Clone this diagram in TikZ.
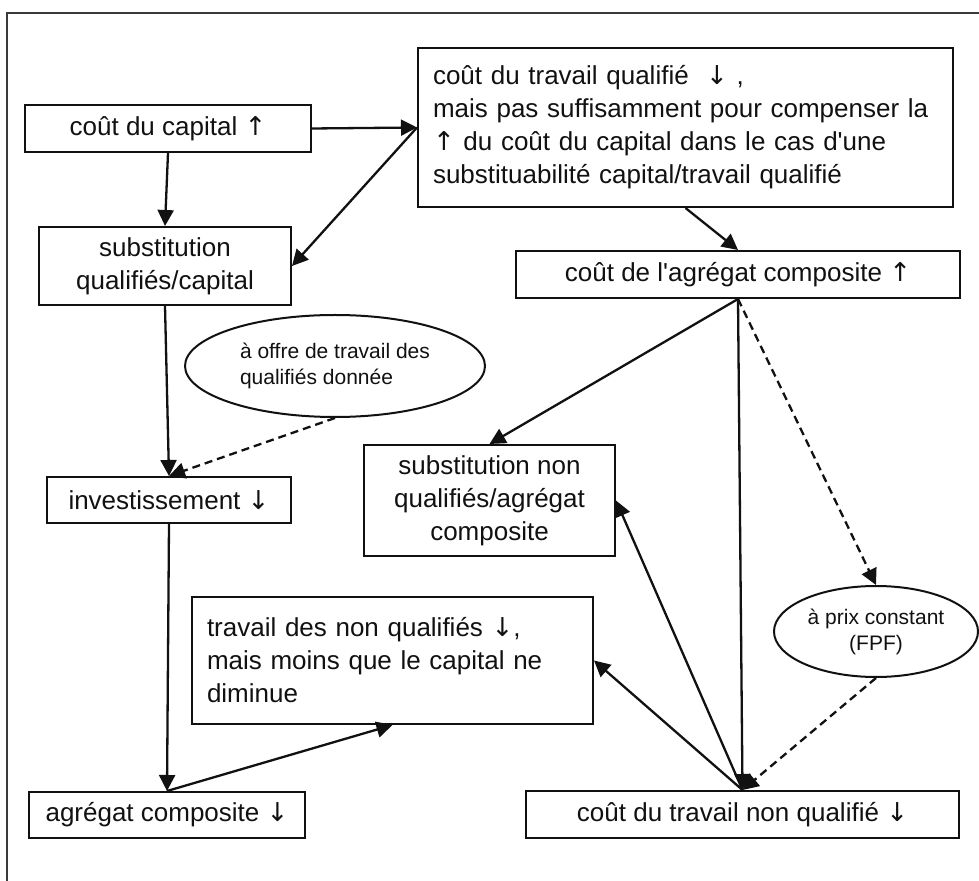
\documentclass[tikz,border=0pt]{standalone}
\usepackage{fontspec}
\setmainfont{Liberation Sans}[Ligatures=TeXOff]
\newfontfamily\arrowfont{DejaVu Sans}
\newcommand\hausse{{\arrowfont ↑}}
\newcommand\baisse{{\arrowfont ↓}}
\usetikzlibrary{arrows.meta,shapes.geometric}
\definecolor{ChartInk}{HTML}{111111}
\definecolor{ChartFrame}{HTML}{3A3A3A}
\tikzset{
  every node/.style={font=\fontsize{13}{16.5}\selectfont, text=ChartInk},
  box/.style={draw=ChartInk, line width=1pt, rectangle, inner sep=0pt, align=center},
  boxsize/.style 2 args={minimum width=#1*0.5pt, minimum height=#2*0.5pt},
  oval/.style={draw=ChartInk, line width=1pt, ellipse, inner sep=0pt, font=\fontsize{10.5}{13}\selectfont},
  link/.style={-{Triangle[length=8pt,width=8pt]}, draw=ChartInk, line width=1.15pt},
  hint/.style={link, dash pattern=on 4pt off 2.5pt},
}

\begin{document}
\begin{tikzpicture}[x=0.5pt,y=-0.5pt]
  \useasboundingbox (0,0) rectangle (979,881);
  \fill[white] (0,0) rectangle (979,881);
  % Outer frame, running off the page on the right and at the bottom
  \begin{scope}
    \clip (0,0) rectangle (979,881);
    \draw[ChartFrame, line width=1pt] (7,13) rectangle (995,895);
  \end{scope}

  % Skilled side
  \node[box, boxsize={286}{47}] (cap) at (168,128.5) {coût du capital \hausse};
  \node[box, boxsize={535}{159}, text width=252.5pt, align=left] (ctq) at (685.5,127.5)
    {coût du travail qualifié \ \baisse\ ,\\
     mais pas suffisamment pour compenser la\\
     \hausse\ du coût du capital dans le cas d'une\\
     substituabilité capital/travail qualifié};
  \node[box, boxsize={252}{78}] (sqc) at (165,266) {substitution\\qualifiés/capital};
  \node[oval, boxsize={300}{102}, align=left] (off) at (335,366)
    {à offre de travail des\\qualifiés donnée};
  \node[box, boxsize={244}{46}] (inv) at (169,500) {investissement \baisse};
  \node[box, boxsize={276}{46}] (agc) at (167,815) {agrégat composite \baisse};

  % Unskilled side
  \node[box, boxsize={444}{47}] (cac) at (738,274.5) {coût de l'agrégat composite \hausse};
  \node[box, boxsize={251}{111}] (snq) at (489.5,500.5)
    {substitution non\\qualifiés/agrégat\\composite};
  \node[box, boxsize={401}{127}, text width=185.5pt, align=left] (tnq) at (392.5,660.5)
    {travail des non qualifiés \baisse,\\mais moins que le capital ne\\diminue};
  \node[oval, boxsize={204}{91}, align=center] (fpf) at (876,631.5)
    {à prix constant\\(FPF)};
  \node[box, boxsize={433}{47}] (cnq) at (742.5,814.5) {coût du travail non qualifié \baisse};

  % Links
  \draw[link] (cap.east) -- (ctq.west);
  \draw[link] (ctq.west) -- (sqc.east);
  \draw[link] (cap.south) -- (sqc.north);
  \draw[link] (sqc.south) -- (inv.north);
  \draw[hint] (off.south) -- (inv.north);
  \draw[link] (inv.south) -- (agc.north);
  \draw[link] (agc.north) -- (tnq.south);
  \draw[link] (ctq.south) -- (cac.north);
  \draw[link] (cac.south) -- (snq.north);
  \draw[link] (cac.south) -- (cnq.north);
  \draw[hint] (cac.south) -- (fpf.north);
  \draw[hint] (fpf.south) -- (cnq.north);
  \draw[link] (cnq.north) -- (snq.east);
  \draw[link] (cnq.north) -- (tnq.east);
\end{tikzpicture}
\end{document}
